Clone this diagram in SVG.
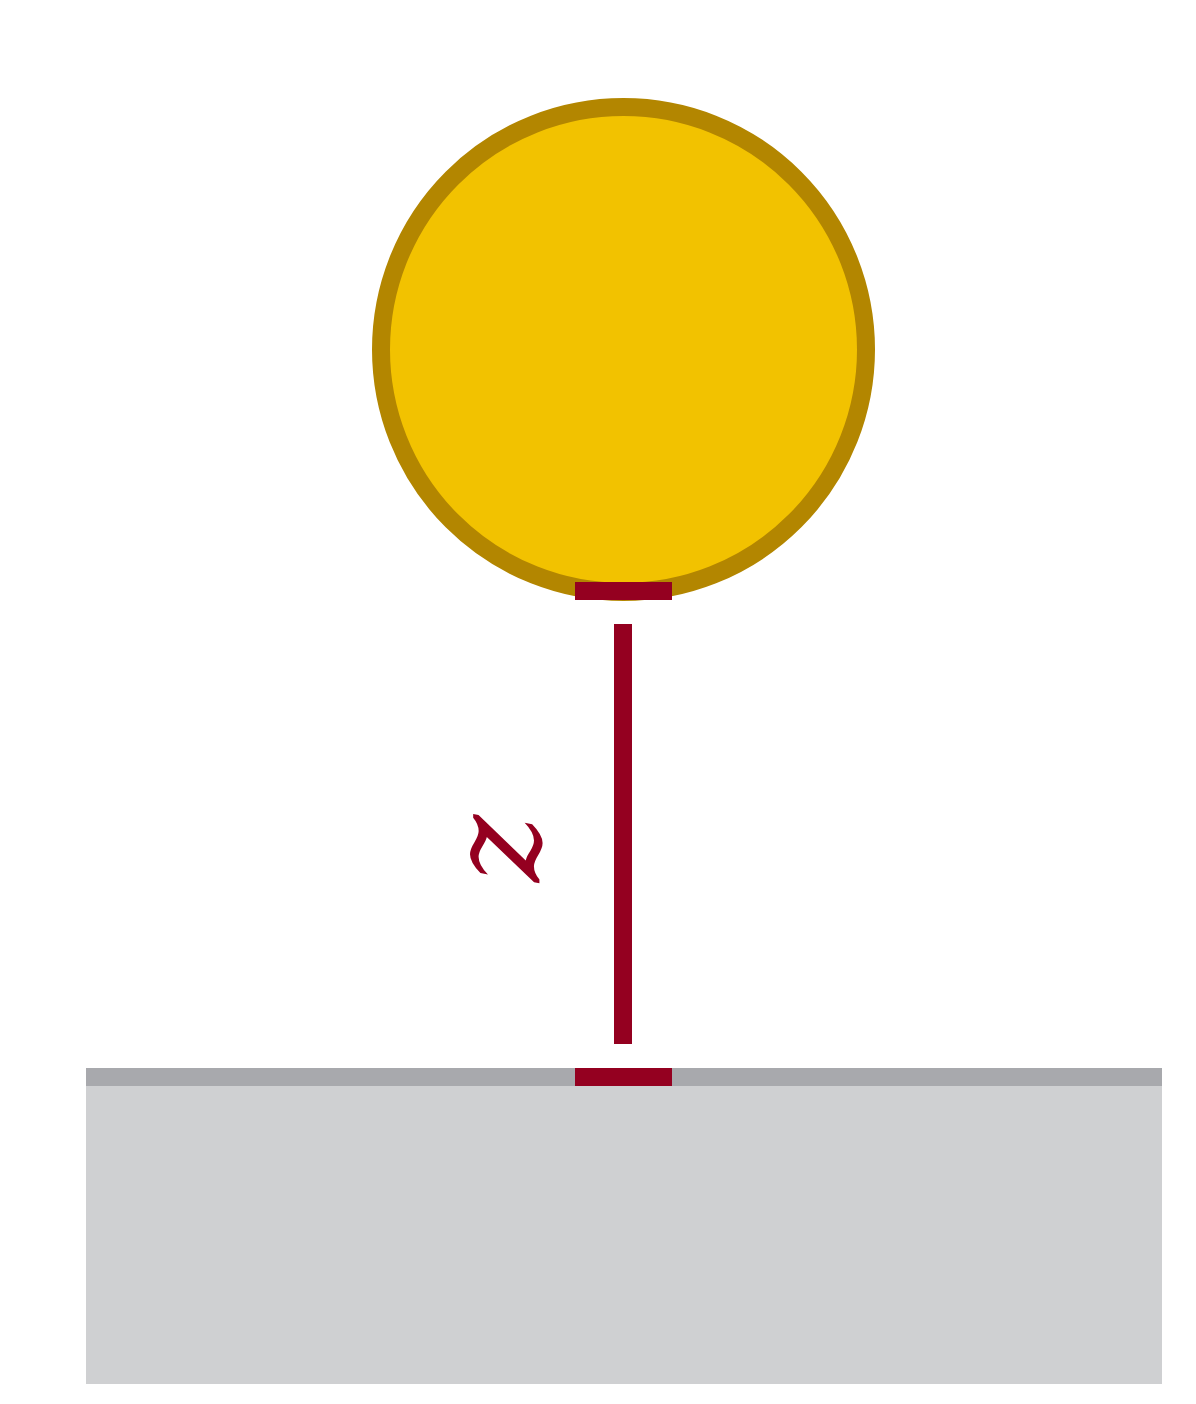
<svg xmlns="http://www.w3.org/2000/svg" width="1196" height="1404" viewBox="0 0 1196 1404">
<style>
.red{fill:#940020}
.lbl{font-family:"DejaVu Serif","Liberation Serif",serif;font-style:italic;font-size:128px;fill:#940020}
</style>
<rect width="1196" height="1404" fill="#ffffff"/>
<g id="surface">
<rect x="86" y="1068" width="1076" height="316" fill="#cfd0d2"/>
<rect x="86" y="1068" width="1076" height="18" fill="#a8a9ad"/>
</g>
<g id="sphere">
<circle cx="623.5" cy="349.5" r="242.5" fill="#f2c200" stroke="#b38600" stroke-width="18"/>
</g>
<g id="connectors">
<rect class="red" x="575" y="582" width="97" height="18"/>
<rect class="red" x="614" y="624" width="18" height="420"/>
<rect class="red" x="575" y="1068" width="97" height="18"/>
</g>
<g id="label">
<text class="lbl" x="0" y="0" text-anchor="middle" transform="translate(511,849) rotate(90)" dy="0.3em">z</text>
</g>
</svg>
